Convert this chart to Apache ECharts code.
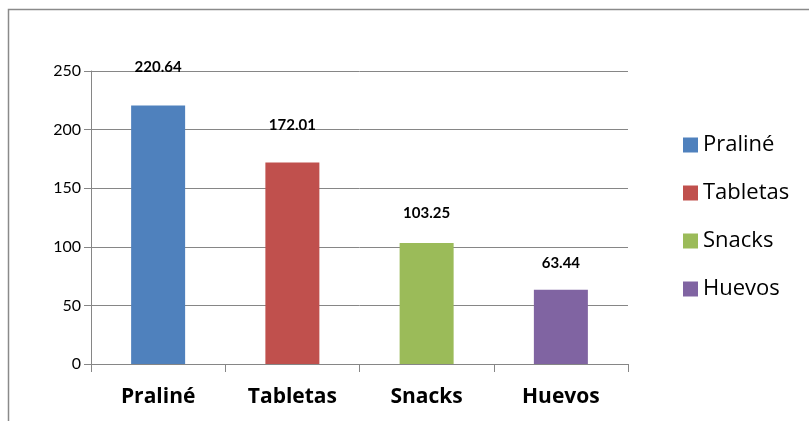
<!DOCTYPE html>
<html>
<head>
<meta charset="utf-8">
<script src="https://cdn.jsdelivr.net/npm/echarts@6/dist/echarts.min.js"></script>
<style>
html,body{margin:0;padding:0;background:#fff;}
#chart{width:809px;height:421px;}
</style>
</head>
<body>
<div id="chart"></div>
<script>
var categories = ['Praliné', 'Tabletas', 'Snacks', 'Huevos'];
var values = [220.64, 172.01, 103.25, 63.44];
var yTicks = [0, 50, 100, 150, 200, 250];

var colors = ['#4F81BD', '#C0504D', '#9BBB59', '#8064A2'];
var labelGap = [31, 30, 22, 19];
var FONT = 'Lato, "Liberation Sans", sans-serif';
var FONT2 = '"Open Sans", "Noto Sans", sans-serif';

var chart = echarts.init(document.getElementById('chart'));

var series = categories.map(function (name, i) {
  return {
    name: name,
    type: 'bar',
    barWidth: 54,
    barGap: '-100%',
    itemStyle: { color: colors[i] },
    label: {
      show: true,
      position: 'top',
      distance: labelGap[i],
      fontFamily: FONT,
      fontWeight: 'bold',
      fontSize: 15,
      color: '#000',
      formatter: function (p) { return p.value.toFixed(2); }
    },
    data: values.map(function (v, j) { return j === i ? v : '-'; })
  };
});

chart.setOption({
  animation: false,
  backgroundColor: '#fff',
  graphic: [{
    type: 'rect',
    shape: { x: 8.5, y: 9.5, width: 900, height: 600 },
    style: { fill: 'none', stroke: '#8a8a8a', lineWidth: 1.5 },
    silent: true
  }],
  grid: { left: 91, top: 71, width: 537, height: 293 },
  legend: {
    orient: 'vertical',
    left: 683,
    top: 134,
    padding: 0,
    icon: 'rect',
    itemWidth: 15,
    itemHeight: 15,
    itemGap: 26,
    itemTextGap: 6,
    textStyle: { fontFamily: FONT2, fontSize: 22, color: '#000', lineHeight: 22 },
    data: categories
  },
  xAxis: {
    type: 'category',
    data: categories,
    axisLine: { lineStyle: { color: '#868686', width: 1 } },
    axisTick: { show: true, length: 8, alignWithLabel: false, lineStyle: { color: '#868686' } },
    axisLabel: { fontFamily: FONT2, fontWeight: 'bold', fontSize: 21, color: '#000', margin: 23 }
  },
  yAxis: {
    type: 'value',
    min: yTicks[0],
    max: yTicks[yTicks.length - 1],
    interval: yTicks[1] - yTicks[0],
    axisLine: { show: true, lineStyle: { color: '#868686', width: 1 } },
    axisTick: { show: true, length: 7, lineStyle: { color: '#868686' } },
    splitLine: { lineStyle: { color: '#868686', width: 1 } },
    axisLabel: { fontFamily: FONT, fontSize: 16, color: '#000', margin: 10 }
  },
  series: series
});
</script>
</body>
</html>
